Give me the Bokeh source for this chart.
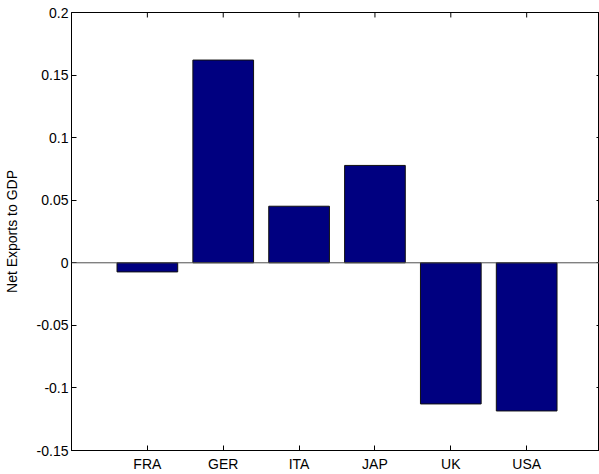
from bokeh.plotting import figure
from bokeh.models import Range1d, FixedTicker, LinearAxis, Span
from bokeh.embed import file_html
from bokeh.resources import INLINE

# Net exports as a share of GDP by country
countries = ["FRA", "GER", "ITA", "JAP", "UK", "USA"]
net_exports = [-0.0073, 0.162, 0.0452, 0.0778, -0.1128, -0.1184]

y_ticks = [-0.15, -0.1, -0.05, 0.0, 0.05, 0.1, 0.15, 0.2]
y_tick_labels = ["-0.15", "-0.1", "-0.05", "0", "0.05", "0.1", "0.15", "0.2"]

positions = list(range(1, len(countries) + 1))

FONT = "Liberation Sans"
BAR_FILL = "#000080"
Y_MIN, Y_MAX = y_ticks[0], y_ticks[-1]
FRAME_H = 474 - 12 - 22

p = figure(
    width=599, height=474,
    x_range=Range1d(0, 6.96), y_range=Range1d(Y_MIN, Y_MAX),
    output_backend="svg", toolbar_location=None, tools="",
    x_axis_location=None, y_axis_location=None,
    min_border_left=71, min_border_right=0,
    min_border_top=12, min_border_bottom=22,
)
p.background_fill_color = "white"
p.border_fill_color = "white"
p.outline_line_color = "black"
p.outline_line_width = 1
p.outline_line_alpha = 1.0
p.xgrid.visible = False
p.ygrid.visible = False

# Bars, then the zero baseline
p.vbar(x=positions, top=net_exports, bottom=0, width=0.8,
       fill_color=BAR_FILL, line_color="#111111", line_width=1)
p.add_layout(Span(location=0, dimension="width", line_color="#505050", line_width=1))


def style_axis(ax):
    ax.major_tick_in = 5
    ax.major_tick_out = 0
    ax.minor_tick_in = 0
    ax.minor_tick_out = 0
    ax.axis_line_color = "black"
    ax.axis_line_width = 1
    ax.major_tick_line_color = "black"
    ax.minor_tick_line_color = "black"
    ax.major_label_text_font = FONT
    ax.major_label_text_font_size = "14px"
    ax.major_label_text_color = "black"


# Bottom axis with country names
xb = LinearAxis(ticker=FixedTicker(ticks=positions))
style_axis(xb)
xb.major_label_overrides = {pos: name for pos, name in zip(positions, countries)}
xb.major_label_standoff = 5
p.add_layout(xb, "below")

# Left axis with values and title
yl = LinearAxis(ticker=FixedTicker(ticks=y_ticks))
style_axis(yl)
yl.major_label_overrides = {t: s for t, s in zip(y_ticks, y_tick_labels)}
yl.major_label_standoff = 3
yl.axis_label = "Net Exports to GDP"
yl.axis_label_text_font = FONT
yl.axis_label_text_font_size = "14px"
yl.axis_label_text_font_style = "normal"
yl.axis_label_text_color = "black"
yl.axis_label_standoff = 14
p.add_layout(yl, "left")

# Short inward ticks along the top edge at each category
tick_len = 5 * (Y_MAX - Y_MIN) / FRAME_H
p.segment(x0=positions, x1=positions, y0=[Y_MAX] * len(positions),
          y1=[Y_MAX - tick_len] * len(positions), line_color="black", line_width=1)

# Right edge: short inward ticks only
yr = LinearAxis(ticker=FixedTicker(ticks=[], minor_ticks=y_ticks))
style_axis(yr)
yr.major_tick_out = 1
yr.minor_tick_in = 3
yr.minor_tick_out = 0
yr.major_label_standoff = 0
yr.axis_line_color = None
p.add_layout(yr, "right")

open("out.html", "w").write(file_html(p, INLINE))
